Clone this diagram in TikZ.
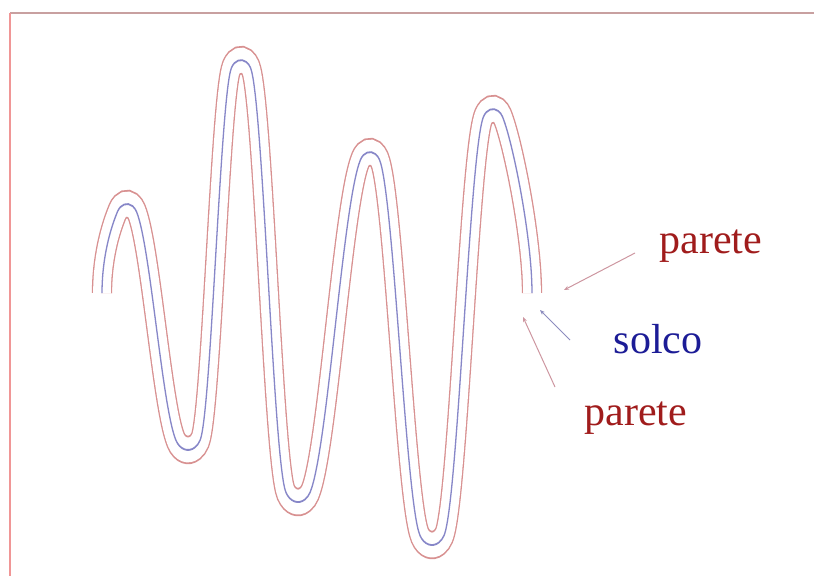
\documentclass[tikz,border=0pt]{standalone}
\usepackage{fontspec}
\setmainfont{Liberation Serif}
\usetikzlibrary{arrows.meta}
\definecolor{wallc}{RGB}{216,145,145}
\definecolor{groovec}{RGB}{135,135,200}
\definecolor{paretec}{RGB}{160,28,28}
\definecolor{solcoc}{RGB}{28,28,150}
\definecolor{arrwall}{RGB}{205,150,160}
\definecolor{arrgroove}{RGB}{140,140,190}
\definecolor{frametop}{RGB}{200,160,160}
\definecolor{frameleft}{RGB}{240,150,150}
\tikzset{
  lbl/.style={anchor=base, inner sep=0pt, font=\fontsize{42}{48}\selectfont},
  pointer/.style={line width=1pt, -{Stealth[length=5pt,width=4pt]}},
  groovepath/.style={draw=wallc, line width=20.3pt,
    postaction={draw=white, line width=17.7pt},
    postaction={draw=groovec, line width=1.3pt}}
}
\begin{document}
\begin{tikzpicture}[x=1pt,y=-1pt]
\useasboundingbox (0,0) rectangle (814,576);
% frame
\draw[frametop, line width=2pt] (10,13) -- (814,13);
\draw[frameleft, line width=2pt] (10,13) -- (10,576);
% groove with its two walls (canvas stretched vertically)
\begin{scope}[y=1pt, transform canvas={yscale=1.4}]
\path[groovepath]
  (102,-209.3) .. controls (102,-189.3) and (107.47,-168.5) .. (117.47,-151.2)
  arc[start angle=150, end angle=30, radius=11]
  .. controls (150.30,-175.04) and (162.11,-290.56) .. (175.88,-314.4)
  arc[start angle=-150, end angle=-30, radius=14]
  .. controls (211.09,-295.41) and (220.50,-67.39) .. (231.47,-48.4)
  arc[start angle=150, end angle=30, radius=11]
  .. controls (262.90,-69.82) and (273.51,-330.18) .. (285.88,-351.6)
  arc[start angle=-150, end angle=-30, radius=14]
  .. controls (327.74,-321.1) and (342.85,-144.6) .. (360.47,-114.1)
  arc[start angle=150, end angle=30, radius=11]
  .. controls (393.65,-138.56) and (405.76,-357.84) .. (419.88,-382.3)
  arc[start angle=-150, end angle=-30, radius=14]
  .. controls (457.89,-358.46) and (469.70,-107.24) .. (483.47,-83.4)
  arc[start angle=150, end angle=30, radius=11]
  .. controls (512.53,-100.72) and (532,-169.3) .. (532,-209.3);
\end{scope}
% labels
\node[lbl, text=paretec] (p1) at (711,253) {parete};
\node[lbl, text=solcoc] (s1) at (658,353) {solco};
\node[lbl, text=paretec] (p2) at (636,425) {parete};
% pointers
\coordinate (p1a) at (635,253);
\coordinate (p1b) at (564,290);
\coordinate (s1a) at (570,340);
\coordinate (s1b) at (540,310);
\coordinate (p2a) at (555,387);
\coordinate (p2b) at (523,317);
\draw[pointer, arrwall] (p1a) -- (p1b);
\draw[pointer, arrgroove] (s1a) -- (s1b);
\draw[pointer, arrwall] (p2a) -- (p2b);
\end{tikzpicture}
\end{document}
